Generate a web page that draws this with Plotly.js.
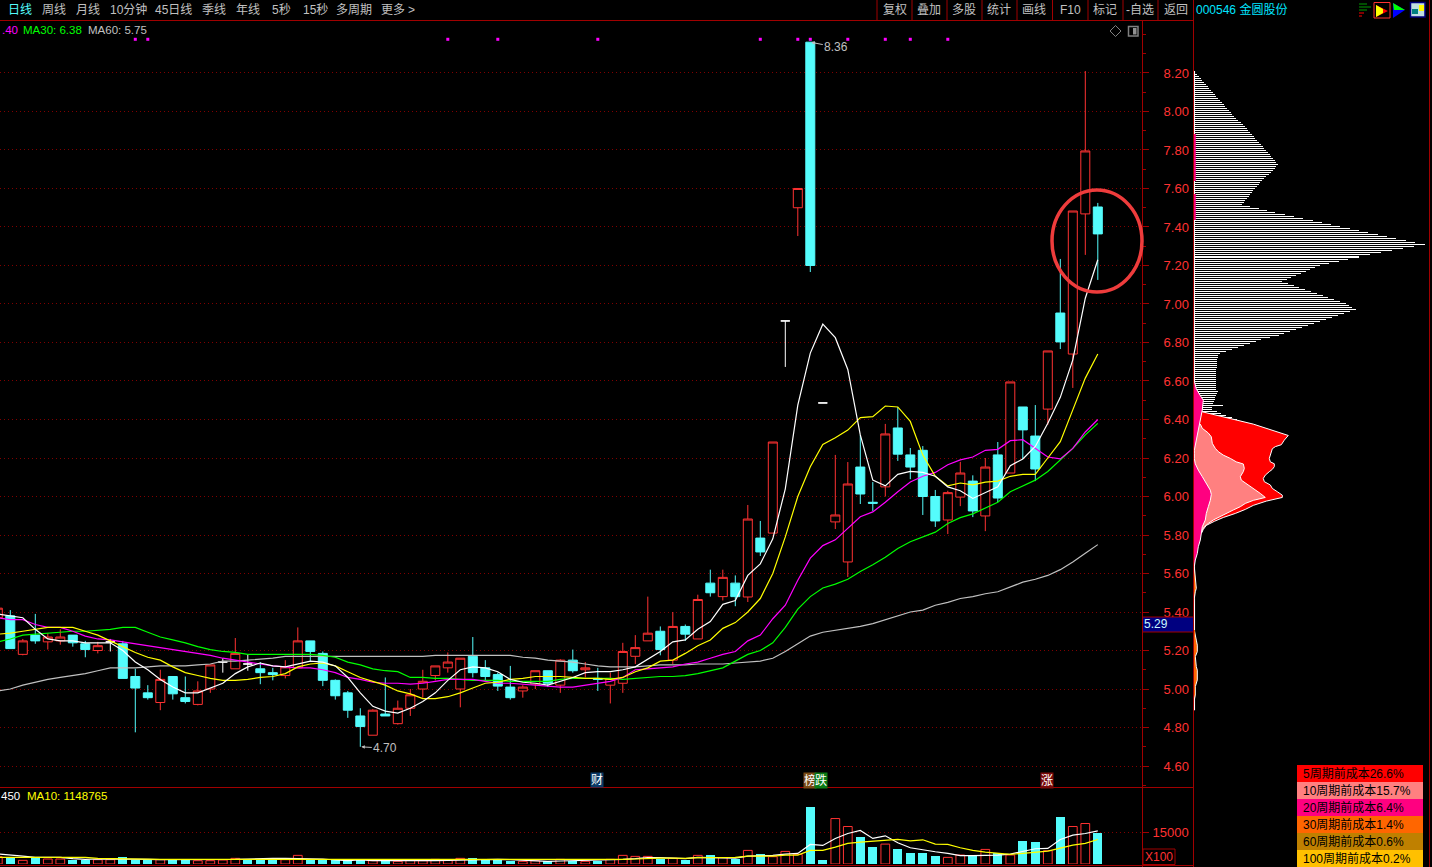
<!DOCTYPE html>
<html><head><meta charset="utf-8">
<script src="https://cdn.plot.ly/plotly-3.0.1.min.js"></script>
<style>html,body{margin:0;padding:0;background:#000;overflow:hidden}#c{width:1432px;height:867px}</style>
</head><body><div id="c"></div>
<script>
const open_=[5.37,5.38,5.18,5.28,5.245,5.25,5.28,5.235,5.20,5.245,5.235,5.065,4.98,4.93,5.065,4.955,4.92,5.00,5.14,5.105,5.13,5.105,5.085,5.07,5.11,5.25,5.185,5.045,4.98,4.86,4.76,4.87,4.82,4.90,5.00,5.07,5.11,5.00,5.17,5.11,5.075,5.01,4.99,5.025,5.095,5.02,5.15,5.10,5.055,5.02,5.03,5.17,5.25,5.30,5.15,5.325,5.26,5.55,5.48,5.55,5.478,5.784,5.81,6.912,7.50,8.36,6.486,5.868,5.66,6.153,5.97,6.05,6.356,6.216,6.24,6.0,5.878,5.997,6.08,5.899,6.216,6.122,6.465,6.314,6.454,6.953,6.74,7.468,7.504];
const close_=[5.42,5.21,5.25,5.25,5.27,5.27,5.24,5.205,5.225,5.245,5.055,5.005,4.955,5.05,4.975,4.935,4.99,5.125,5.14,5.185,5.13,5.085,5.075,5.115,5.25,5.195,5.045,4.965,4.89,4.805,4.89,4.86,4.90,4.97,5.04,5.12,5.14,5.16,5.085,5.065,5.015,4.955,5.01,5.095,5.03,5.15,5.095,5.11,5.05,5.055,5.195,5.215,5.29,5.205,5.325,5.285,5.465,5.50,5.58,5.48,5.883,5.712,6.283,6.912,7.60,7.20,6.486,5.904,6.065,6.013,5.965,6.325,6.22,6.153,6.0,5.873,6.02,6.122,5.925,6.153,5.992,6.595,6.346,6.143,6.756,6.803,7.483,7.795,7.364];
const high_=[5.42,5.41,5.26,5.39,5.29,5.31,5.28,5.25,5.245,5.26,5.25,5.105,5.02,5.10,5.065,5.065,5.04,5.125,5.16,5.265,5.18,5.14,5.11,5.15,5.32,5.25,5.195,5.05,4.99,4.90,4.895,5.06,4.94,5.00,5.10,5.12,5.19,5.16,5.27,5.15,5.085,5.12,5.02,5.095,5.095,5.155,5.205,5.14,5.11,5.085,5.24,5.28,5.48,5.325,5.40,5.335,5.49,5.62,5.62,5.59,5.956,5.873,6.283,6.912,7.60,8.36,6.486,6.216,6.179,6.32,6.075,6.377,6.465,6.252,6.262,6.034,6.03,6.18,6.11,6.2,6.283,6.595,6.465,6.475,6.756,7.234,7.483,8.21,7.525];
const low_=[5.36,5.21,5.175,5.235,5.205,5.23,5.22,5.165,5.185,5.195,5.055,4.775,4.945,4.89,4.945,4.925,4.915,4.98,5.085,5.105,5.095,5.025,5.045,5.055,5.11,5.145,5.015,4.945,4.85,4.70,4.76,4.86,4.815,4.86,4.955,5.045,5.085,4.905,5.06,5.04,4.99,4.945,4.955,5.0,5.01,4.98,5.085,5.06,4.99,4.925,4.98,5.13,5.25,5.175,5.13,5.25,5.26,5.48,5.46,5.43,5.452,5.691,5.81,6.673,7.353,7.166,6.486,5.831,5.582,5.961,5.925,6.0,6.185,6.09,5.904,5.842,5.805,5.95,5.893,5.82,5.971,6.122,6.195,6.08,6.372,6.766,6.564,7.255,7.125];
const ma5=[5.39,5.38,5.37,5.31,5.26,5.25,5.25,5.24,5.24,5.24,5.20,5.14,5.10,5.05,5.01,4.98,4.98,5.005,5.03,5.08,5.115,5.135,5.12,5.115,5.13,5.145,5.14,5.12,5.06,4.98,4.91,4.885,4.875,4.90,4.935,4.98,5.045,5.10,5.115,5.11,5.09,5.05,5.035,5.03,5.02,5.04,5.06,5.085,5.09,5.09,5.10,5.115,5.155,5.195,5.245,5.255,5.31,5.35,5.44,5.46,5.59,5.65,5.78,6.04,6.475,6.745,6.895,6.825,6.66,6.32,6.085,6.055,6.115,6.13,6.125,6.105,6.05,6.03,5.99,6.02,6.05,6.16,6.195,6.26,6.38,6.515,6.71,7.03,7.23];
const ma10=[5.285,5.29,5.30,5.31,5.32,5.32,5.32,5.30,5.28,5.25,5.22,5.19,5.165,5.15,5.115,5.085,5.07,5.055,5.045,5.045,5.05,5.06,5.065,5.08,5.115,5.13,5.135,5.12,5.09,5.06,5.04,5.02,4.99,4.975,4.95,4.95,4.96,4.98,5.005,5.03,5.035,5.05,5.055,5.065,5.065,5.065,5.06,5.055,5.055,5.05,5.06,5.09,5.11,5.145,5.15,5.185,5.225,5.255,5.315,5.345,5.40,5.47,5.60,5.79,6.00,6.155,6.27,6.305,6.345,6.41,6.415,6.47,6.465,6.39,6.215,6.105,6.055,6.07,6.06,6.075,6.08,6.105,6.115,6.115,6.20,6.285,6.45,6.615,6.74];
const ma20=[5.37,5.36,5.36,5.335,5.32,5.32,5.30,5.275,5.26,5.255,5.245,5.235,5.225,5.215,5.205,5.195,5.185,5.175,5.16,5.15,5.14,5.13,5.12,5.115,5.11,5.11,5.10,5.085,5.06,5.05,5.035,5.03,5.03,5.025,5.03,5.04,5.05,5.05,5.05,5.04,5.03,5.03,5.025,5.02,5.015,5.01,5.01,5.02,5.03,5.04,5.06,5.10,5.105,5.11,5.115,5.13,5.14,5.16,5.18,5.195,5.25,5.28,5.365,5.435,5.565,5.68,5.745,5.775,5.835,5.895,5.92,5.97,6.025,6.075,6.105,6.125,6.165,6.19,6.205,6.24,6.245,6.29,6.295,6.25,6.205,6.195,6.25,6.335,6.40];
const ma30=[5.245,5.26,5.28,5.285,5.29,5.295,5.30,5.30,5.305,5.31,5.32,5.32,5.295,5.27,5.255,5.24,5.22,5.205,5.195,5.19,5.18,5.18,5.18,5.18,5.18,5.18,5.175,5.165,5.14,5.125,5.105,5.095,5.09,5.06,5.06,5.055,5.055,5.05,5.045,5.045,5.045,5.04,5.04,5.04,5.04,5.05,5.055,5.055,5.055,5.055,5.05,5.055,5.06,5.065,5.065,5.07,5.08,5.095,5.11,5.145,5.18,5.20,5.24,5.32,5.415,5.48,5.525,5.545,5.57,5.61,5.645,5.685,5.73,5.765,5.79,5.815,5.86,5.89,5.91,5.94,5.97,6.025,6.055,6.085,6.13,6.19,6.25,6.32,6.38];
const ma60=[4.99,5.00,5.02,5.035,5.05,5.06,5.07,5.08,5.095,5.11,5.11,5.11,5.115,5.12,5.12,5.12,5.125,5.13,5.145,5.145,5.15,5.155,5.16,5.17,5.17,5.17,5.17,5.17,5.17,5.17,5.17,5.17,5.17,5.17,5.17,5.175,5.175,5.175,5.175,5.175,5.175,5.175,5.165,5.16,5.15,5.145,5.14,5.13,5.12,5.115,5.115,5.115,5.12,5.125,5.125,5.125,5.13,5.13,5.13,5.135,5.14,5.145,5.16,5.195,5.235,5.275,5.295,5.305,5.315,5.325,5.34,5.36,5.38,5.40,5.41,5.435,5.45,5.47,5.48,5.495,5.505,5.53,5.555,5.57,5.59,5.62,5.66,5.705,5.75];
const volume=[3480,3160,1740,2840,2370,2370,2050,2050,2050,2050,3320,2050,2050,2050,2050,2050,1580,1580,1900,2690,2050,2050,2050,2050,4110,2050,2050,2050,1260,2050,1580,1420,1260,1740,1580,2210,1900,2690,2690,2050,2050,1260,1260,1580,1260,2210,1260,1260,1580,2210,4110,3630,3630,2210,2690,1900,4110,4270,3000,2370,6480,4740,3480,6000,4580,27020,1900,21650,17850,12800,8060,9480,7110,5210,5210,3790,3160,4270,3790,6950,5060,4270,10900,10430,6320,22280,17850,19280,14690];
const volMa5=[4740,4420,3790,3160,3160,3160,2530,2210,2370,2370,2530,2530,2210,2050,2050,2050,2050,1900,1900,2210,2370,2690,2690,2690,2690,2530,2370,1900,1580,1900,1580,1740,1580,1580,1580,1580,1740,2050,2210,2210,2210,2050,1740,1420,1260,1420,1580,1580,1580,1900,2210,2530,3000,3000,2840,2530,3160,3160,2840,2840,3790,3950,4110,4740,5060,9320,8850,12170,14540,15960,12170,13430,10110,7740,6640,5850,5060,3950,3950,3950,4270,4740,6160,7270,7430,11690,13750,14540,15800];
const volMa10=[3160,3160,3320,3480,3480,3480,3480,3160,2690,2530,2530,2370,2210,2210,2210,2210,2210,2210,2210,2210,2210,2210,2210,2210,2210,2210,2210,2210,2050,2050,1900,1900,1900,1900,1900,1900,1900,1900,1900,1900,1900,1900,1900,1900,1900,1900,1900,1900,1900,1900,2210,2370,2690,2840,2840,2690,3000,3000,3160,3160,3790,3790,3790,4270,4270,6480,6480,8060,9800,10430,10740,11220,11690,11060,11530,9480,9320,7740,6480,5690,5060,4580,5060,5530,6160,7580,9010,9800,11690];
const volDownExtra=[20,66];
const signalBars=[11,12,36,40,48,61,64,65,68,71,73,76];
const signalLevel=8.375;
const priceTicks=[4.6,4.8,5.0,5.2,5.4,5.6,5.8,6.0,6.2,6.4,6.6,6.8,7.0,7.2,7.4,7.6,7.8,8.0,8.2];
const chipShare=[2,4,6,8,9,11,13,15,16,18,20,22,23,25,27,29,31,32,34,36,38,39,41,43,45,48,50,52,54,55,57,59,61,62,64,66,68,70,71,73,75,77,78,80,82,83,85,83,82,80,78,76,73,71,69,67,66,64,62,60,59,57,56,54,52,51,49,57,66,74,82,92,101,110,120,129,138,147,157,166,175,185,194,203,213,222,232,221,210,199,188,177,166,155,146,136,127,122,117,113,108,103,98,94,89,95,101,106,112,118,124,130,135,141,147,153,156,159,163,157,151,145,139,133,127,121,115,109,103,97,91,86,77,68,63,57,51,45,39,33,27,25,25,24,24,24,24,24,23,23,23,23,23,23,23,23,23,23,23,25,24,23,22,22,21,20,30,19,19,24,28,33,39,44,49,55];
const chipTopPrice=8.2, chipStep=0.01039;
const red5P=[6.44,6.376,6.317,6.293,6.269,6.259,6.248,6.215,6.198,6.18,6.17,6.155,6.141,6.129,6.111,6.094,6.077,6.06,6.042,6.025,6.007,5.995,5.987,5.976,5.954,5.933,5.912,5.891,5.871,5.85,5.829,5.808];
const red5V=[9,60,95,91,88,82,79,77,76,77,81,81,79,76,72,70,71,77,79,84,89,89,82,73,60,52,42,30,21,13,10,8];
const sal10P=[6.376,6.354,6.33,6.31,6.276,6.25,6.233,6.215,6.198,6.18,6.169,6.146,6.129,6.103,6.085,6.068,6.047,6.016,5.995,5.98,5.964,5.947,5.93,5.912,5.895,5.878,5.86,5.843,5.826,5.808];
const sal10V=[7,9,15,18,19,22,25,30,37,43,50,51,50,47,48,53,58,67,72,60,52,47,40,33,27,20,15,11,9,8];
const pink20P=[6.60,6.56,6.533,6.50,6.45,6.40,6.345,6.293,6.24,6.224,6.198,6.17,6.137,6.103,6.068,6.033,6.011,5.98,5.947,5.912,5.878,5.843,5.808,5.774,5.739,5.704,5.67,5.635];
const pink20V=[1,3,6,10,9,7,5,3,1,1,1,2,5,9,13,17,18,17,15,13,12,9,8,7,5,4,2,1];
const farP=[5.635,5.575,5.557,5.523,5.505,5.47,5.41,5.358,5.306,5.254,5.228,5.194,5.168,5.116,5.098,5.047,5.012,4.968,4.943,4.89];
const farV=[1,2,3,3,2,1,0.5,1,1,3,4,4,2,3,4,4,2,2,1,0.5];
const orangeA=[5.557,5.523], orangeB=[5.306,4.97];
const pinkStripA=[7.883,7.639], pinkStripB=[7.571,7.436];

const W=1432,H=867;
const fx=x=>x/W, fy=y=>1-y/H;
const n=open_.length, bars=[];
for(let k=0;k<n;k++)bars.push(k);
const isDoji=k=>open_[k]===close_[k];
const pick=(arr,f)=>arr.filter((_,k)=>f(k));
const RED='#ff3232',CY='#54fcfc',AXR='#a00000';
const base=(f)=>({type:'candlestick',xaxis:'x',yaxis:'y',x:pick(bars,f),open:pick(open_,f),high:pick(high_,f),low:pick(low_,f),close:pick(close_,f),whiskerwidth:0,hoverinfo:'skip',showlegend:false});
const traces=[];
traces.push(Object.assign(base(k=>!isDoji(k)),{increasing:{line:{color:RED,width:1},fillcolor:'#000'},decreasing:{line:{color:CY,width:1},fillcolor:CY}}));
traces.push(Object.assign(base(isDoji),{increasing:{line:{color:'#fff',width:1},fillcolor:'#fff'},decreasing:{line:{color:'#fff',width:1},fillcolor:'#fff'}}));
const line=(y,c,ya)=>({type:'scatter',mode:'lines',x:bars,y:y,xaxis:'x',yaxis:ya||'y',line:{color:c,width:1.2},hoverinfo:'skip',showlegend:false});
traces.push(line(ma60,'#c0c0c0'),line(ma30,'#00ff00'),line(ma20,'#ff00ff'),line(ma10,'#ffff00'),line(ma5,'#ffffff'));
traces.push({type:'scatter',mode:'markers',x:signalBars,y:signalBars.map(()=>signalLevel),xaxis:'x',yaxis:'y',marker:{symbol:'square',size:3,color:'#ff00ff'},hoverinfo:'skip',showlegend:false});
const isDown=k=>close_[k]<open_[k]||volDownExtra.includes(k);
traces.push({type:'bar',x:pick(bars,k=>!isDown(k)),y:pick(volume,k=>!isDown(k)),xaxis:'x',yaxis:'y2',width:0.7,marker:{color:'#000',line:{color:RED,width:1}},hoverinfo:'skip',showlegend:false});
traces.push({type:'bar',x:pick(bars,isDown),y:pick(volume,isDown),xaxis:'x',yaxis:'y2',width:0.7,marker:{color:CY,line:{width:0}},hoverinfo:'skip',showlegend:false});
traces.push(line(volMa5,'#ffffff','y2'),line(volMa10,'#ffff00','y2'));
const chipP=chipShare.map((_,k)=>chipTopPrice-k*chipStep);
traces.push({type:'bar',orientation:'h',x:chipShare,y:chipP,xaxis:'x2',yaxis:'y3',width:chipStep/2,marker:{color:'#fff',line:{width:0}},hoverinfo:'skip',showlegend:false});
const area=(v,p,c)=>({type:'scatter',mode:'lines',x:v,y:p,xaxis:'x2',yaxis:'y3',fill:'tozerox',fillcolor:c,line:{color:'#fff',width:1},hoverinfo:'skip',showlegend:false});
const strip=(p,c,w,xv)=>({type:'scatter',mode:'lines',x:[xv,xv],y:p,xaxis:'x2',yaxis:'y3',line:{color:c,width:w},hoverinfo:'skip',showlegend:false});
traces.push(strip([8.21,4.89],'#fff',1.5,1));
traces.push(area(farV,farP,'#ff6600'),area(red5V,red5P,'#ff0000'),area(sal10V,sal10P,'#ff8080'),area(pink20V,pink20P,'#ff0080'));
traces.push(strip(pinkStripA,'#ff0080',2,1.5),strip(pinkStripB,'#ff0080',2,1.5),strip(orangeA,'#ff6600',1.5,1),strip(orangeB,'#ff6600',1.5,1));

const FONT='"Liberation Sans","Noto Sans CJK SC",sans-serif';
const ann=[];
const txt=(t,x,y,c,opt)=>ann.push(Object.assign({text:t,xref:'paper',yref:'paper',x:fx(x),y:fy(y),xanchor:'left',yanchor:'middle',showarrow:false,borderpad:0,font:{family:FONT,size:12,color:c}},opt||{}));
const GR='#c0c0c0';
[['周线',41],['月线',75],['10分钟',109],['45日线',154],['季线',201],['年线',235],['5秒',271],['15秒',302],['多周期',335],['更多',380],['>',407]].forEach(a=>txt(a[0],a[1],10,GR));
txt('日线',7,10,CY);
[['复权',881.5],['叠加',915.5],['多股',950.5],['统计',985.5],['画线',1020.5],['F10',1059],['标记',1091.5],['-自选',1124.5],['返回',1162.5]].forEach(a=>txt(a[0],a[1],10,GR));
txt('000546 金圆股份',1195,9,'#00e5ff');
const lg={font:{family:FONT,size:11.5,color:''}};
const tl=(t,x,y,c)=>txt(t,x,y,c,{font:{family:FONT,size:11.5,color:c}});
tl('.40',1,30,'#ff00ff');tl('MA30: 6.38',22,30,'#00ff00');tl('MA60: 5.75',87,30,GR);
tl('450',0,796,'#fff');tl('MA10: 1148765',26,796,'#ffff00');
txt('5.29',1143,624,'#c8f8ff');
txt('X100',1144,857,RED);
txt('财',589.5,780,'#fff',{bgcolor:'#0a3a66'});
txt('榜',802.5,780,'#fff',{bgcolor:'#7a4a14'});
txt('跌',814.5,780,'#fff',{bgcolor:'#0a7a14'});
txt('涨',1039.5,780,'#fff',{bgcolor:'#7a0a0a'});
const arrow=(k,v,t,ax,ay)=>ann.push({xref:'x',yref:'y',x:k,y:v,ax:ax,ay:ay,text:t,showarrow:true,arrowhead:2,arrowsize:0.7,arrowwidth:1,arrowcolor:GR,font:{family:FONT,size:12,color:GR},standoff:1});
arrow(65,8.36,'8.36',26,5);arrow(29,4.70,'4.70',25,1.5);

const rowColors=[['#ff0000','5周期前成本26.6%'],['#ff8080','10周期前成本15.7%'],['#ff0080','20周期前成本6.4%'],['#ff6600','30周期前成本1.4%'],['#bf8000','60周期前成本0.6%'],['#ffc000','100周期前成本0.2%']];
const shapes=[];
const rect=(x0,y0,x1,y1,fill,ln,lw)=>shapes.push({type:'rect',xref:'paper',yref:'paper',x0:fx(x0),x1:fx(x1),y0:fy(y0),y1:fy(y1),fillcolor:fill||'rgba(0,0,0,0)',line:{color:ln||'rgba(0,0,0,0)',width:ln?(lw||1):0},layer:'above'});
const seg=(x0,y0,x1,y1,c,w)=>shapes.push({type:'line',xref:'paper',yref:'paper',x0:fx(x0),x1:fx(x1),y0:fy(y0),y1:fy(y1),line:{color:c,width:w||1},layer:'above'});
const poly=(pts,fill,ln)=>shapes.push({type:'path',xref:'paper',yref:'paper',path:pts.map((p,i)=>(i?'L':'M')+fx(p[0])+' '+fy(p[1])).join(' ')+' Z',fillcolor:fill,line:{color:ln||'rgba(0,0,0,0)',width:ln?1:0},layer:'above'});
rowColors.forEach((r,i)=>{const y=765+17*i;rect(1297,y,1423,y+17,r[0]);txt(r[1],1302,y+8,'#000');});
seg(0,20.5,1194,20.5,AXR);seg(0,787.5,1193,787.5,AXR);seg(0,865.5,1193,865.5,AXR);
seg(1142.5,20,1142.5,867,AXR);seg(1193.5,0,1193.5,867,AXR);seg(1429.5,0,1429.5,867,AXR);
[877,912,947,982,1017,1052.5,1088,1123,1158].forEach(x=>seg(x,0,x,20,AXR));
rect(1143,617,1193,632,'#000080');seg(1143,617,1193,617,AXR);seg(1143,632,1193,632,AXR);
rect(1143,849,1175,864.5,null,AXR);
shapes.push({type:'circle',xref:'paper',yref:'paper',x0:fx(1052),x1:fx(1142),y0:fy(190),y1:fy(292),line:{color:'#ee3c3c',width:3.5},layer:'above'});
poly([[1110,31],[1115.5,25.5],[1121,31],[1115.5,36.5]],'rgba(0,0,0,0)','#808080');
rect(1128.5,26.5,1138,36,'#000','#808080',1.5);rect(1133,28,1136.5,34.5,'#909090');
seg(1359,4,1367,4,'#009900');seg(1359,7,1371,7,'#009900');seg(1359,10,1367,10,'#009900');seg(1359,13,1364,13,'#ff0000');seg(1359,16,1362,16,'#ff0000');
rect(1374,2.5,1390,18,null,'#ff3232',1);
poly([[1376,5],[1388,11],[1376,17]],'#ff0000');poly([[1376,5],[1383,9],[1383,13],[1376,17]],'#ffff00');
poly([[1393,3],[1405,10],[1393,18]],'#0000ff');poly([[1393,3],[1405,10],[1394,10]],'#00ff00');
rect(1410.5,2.5,1425,17,'#c0e0e0','#000080',1.5);rect(1419,5,1424,11,'#ffff00');rect(1412,9,1418,14,'#008080');

const layout={width:W,height:H,autosize:false,margin:{l:0,r:0,t:0,b:0,pad:0},paper_bgcolor:'#000',plot_bgcolor:'#000',showlegend:false,barmode:'overlay',bargap:0,boxgap:0.28,boxgroupgap:0,dragmode:false,
 xaxis:{domain:[0,1142/W],range:[0.176,91.536],visible:false,rangeslider:{visible:false},fixedrange:true,anchor:'y'},
 xaxis2:{domain:[1193.3/W,1429/W],range:[0,235.7],visible:false,fixedrange:true,anchor:'y3'},
 yaxis:{domain:[fy(787),fy(21)],range:[4.491,8.47],side:'right',anchor:'x',tickvals:priceTicks,tickformat:'.2f',tickfont:{family:FONT,size:13,color:RED},ticks:'outside',ticklen:6,tickcolor:AXR,ticklabelstandoff:12,showline:false,zeroline:false,showgrid:true,gridcolor:'#800000',griddash:'1px,3px',gridwidth:1,fixedrange:true,
   minor:{dtick:0.1,tick0:4.5,ticks:'outside',ticklen:3,tickcolor:AXR,showgrid:false}},
 yaxis2:{domain:[fy(864),fy(788)],range:[0,36200],side:'right',anchor:'x',tickvals:[15000],tickformat:'d',tickfont:{family:FONT,size:13,color:RED},ticks:'outside',ticklen:6,tickcolor:AXR,ticklabelstandoff:1,showline:false,zeroline:false,showgrid:true,gridcolor:'#800000',griddash:'1px,3px',fixedrange:true},
 yaxis3:{domain:[fy(787),fy(21)],range:[4.491,8.47],visible:false,anchor:'x2',fixedrange:true,showgrid:false,zeroline:false},
 annotations:ann,shapes:shapes};
Plotly.newPlot('c',traces,layout,{staticPlot:true,displayModeBar:false,responsive:false});
</script></body></html>
